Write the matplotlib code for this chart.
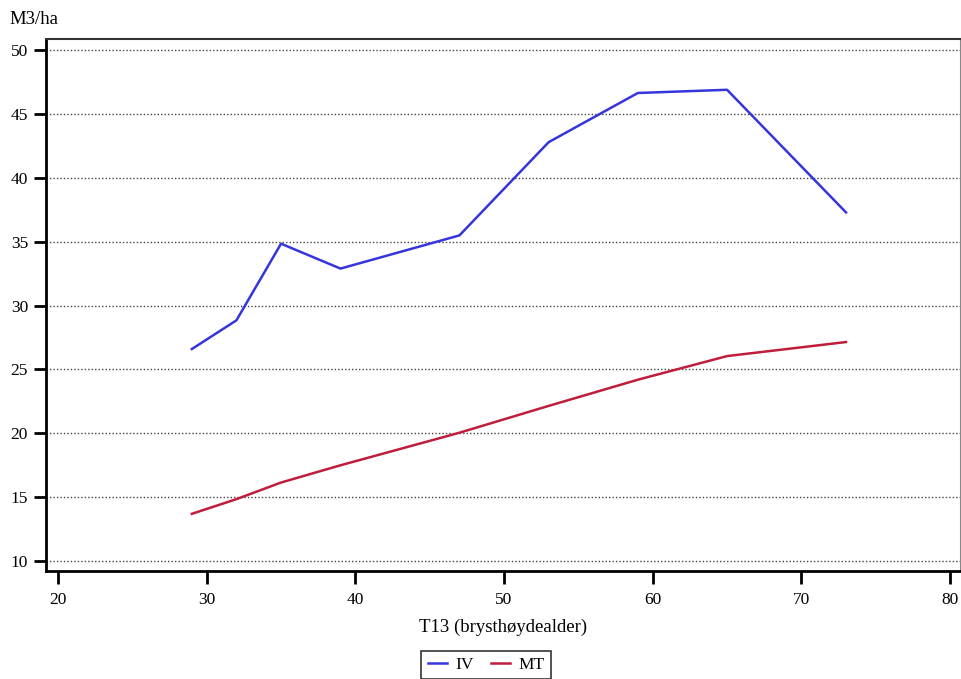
import matplotlib
matplotlib.use('Agg')
import matplotlib.pyplot as plt

plt.rcParams['font.family'] = ['Liberation Serif', 'DejaVu Serif']

# %% data
alder = [29, 32, 35, 39, 47, 53, 59, 65, 73]
iv = [26.6, 28.85, 34.85, 32.9, 35.5, 42.8, 46.65, 46.9, 37.3]
mt = [13.7, 14.85, 16.15, 17.5, 20.05, 22.15, 24.2, 26.05, 27.15]
x_ticks = [20, 30, 40, 50, 60, 70, 80]
y_ticks = [10, 15, 20, 25, 30, 35, 40, 45, 50]

# %% plot
fig = plt.figure(figsize=(9.61, 6.79), dpi=100)
ax = fig.add_axes([0.048, 0.159, 0.951, 0.784])

ax.plot(alder, iv, color='#3535dd', linewidth=1.8, label='IV')
ax.plot(alder, mt, color='#be1e3c', linewidth=1.8, label='MT')

ax.set_xlim(19.2, 80.67)
ax.set_ylim(9.22, 50.9)
ax.set_xticks(x_ticks)
ax.set_yticks(y_ticks)
ax.grid(axis='y', color='#444444', linestyle=(0, (1, 1.5)), linewidth=1.0)
ax.set_axisbelow(True)

ax.spines['left'].set_linewidth(2)
ax.spines['bottom'].set_linewidth(2)
ax.spines['top'].set_linewidth(1.5)
ax.spines['top'].set_color('#333333')
ax.spines['right'].set_linewidth(0.8)
ax.spines['right'].set_color('#888888')
ax.tick_params(axis='both', length=9, width=2, labelsize=12.5, colors='black')
ax.tick_params(axis='x', pad=6)
ax.tick_params(axis='y', pad=4)

ax.set_xlabel('T13 (brysthøydealder)', fontsize=13.5, labelpad=8)
fig.text(0.010, 0.972, 'M3/ha', fontsize=13.5, ha='left', va='center')

leg = fig.legend(loc='upper center', bbox_to_anchor=(0.506, 0.054), ncol=2,
                 fontsize=12.5, frameon=True, fancybox=False, edgecolor='black',
                 handlelength=1.1, handletextpad=0.5, columnspacing=1.0,
                 borderpad=0.35)
leg.get_frame().set_linewidth(1.2)

fig.savefig('out.png', dpi=100)
